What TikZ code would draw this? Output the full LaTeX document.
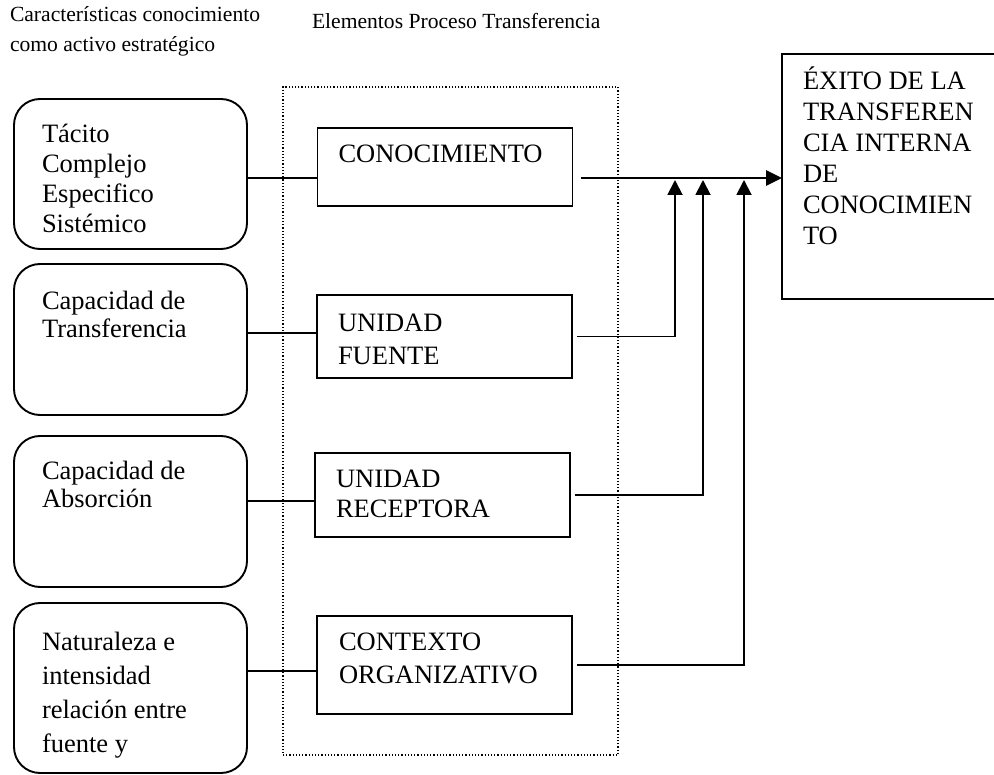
\documentclass[tikz,border=0pt]{standalone}
\usepackage{fontspec}
\setmainfont{Liberation Serif}
\usetikzlibrary{arrows.meta}

\begin{document}
\begin{tikzpicture}[x=1pt, y=-1pt,
    every node/.style={inner sep=0pt, outer sep=0pt},
    txt/.style={font=\fontsize{26.5}{#1}\selectfont, align=left, anchor=north west},
    txt/.default=30,
    title/.style={font=\fontsize{21.6}{30}\selectfont, align=left, anchor=north west},
    trait/.style={draw, line width=1.9pt, rounded corners=26pt, minimum width=233pt},
    elem/.style={draw, line width=1.9pt, minimum width=255pt},
    link/.style={line width=1.5pt},
    feed/.style={line width=1.9pt, shorten <=5pt, -{Triangle[length=15pt,width=15pt]}},
    main/.style={line width=2.8pt, shorten <=8pt, -{Triangle[length=16pt,width=15pt]}}]
    \useasboundingbox (0,0) rectangle (994,775);

    \node[title] (ttrait) at (10,6) {Características conocimiento\\como activo estratégico};
    \node[title] (telem) at (312,13) {Elementos Proceso Transferencia};

    % left column
    \node[trait, minimum height=150pt] (r1) at (130.5,174) {};
    \node[trait, minimum height=151pt] (r2) at (130.5,339.5) {};
    \node[trait, minimum height=151pt] (r3) at (130.5,511.5) {};
    \node[trait, minimum height=170pt] (r4) at (130.5,688) {};
    \node[txt] (r1t) at ([shift={(28,25)}]r1.north west) {Tácito\\Complejo\\Especifico\\Sistémico};
    \node[txt=28] (r2t) at ([shift={(28,27)}]r2.north west) {Capacidad de\\Transferencia};
    \node[txt=28] (r3t) at ([shift={(28,25)}]r3.north west) {Capacidad de\\Absorción};
    \node[txt=34] (r4t) at ([shift={(28,29)}]r4.north west) {Naturaleza e\\intensidad\\relación entre\\fuente y};

    % process elements
    \node[draw, dotted, line width=1.2pt, minimum width=335pt, minimum height=668pt] (proc) at (450.5,421) {};
    \node[elem, minimum height=78pt] (con) at (445,167) {};
    \node[elem, minimum height=83pt] (uf) at (444.5,336.5) {};
    \node[elem, minimum height=84pt] (ur) at (442.5,495) {};
    \node[elem, minimum height=98pt] (co) at (444.5,665) {};
    \node[txt] (cont) at ([shift={(21,17)}]con.north west) {CONOCIMIENTO};
    \node[txt=33] (uft) at ([shift={(21,19)}]uf.north west) {UNIDAD\\FUENTE};
    \node[txt=30] (urt) at ([shift={(21,17)}]ur.north west) {UNIDAD\\RECEPTORA};
    \node[txt=33] (cot) at ([shift={(22,17)}]co.north west) {CONTEXTO\\ORGANIZATIVO};

    % result
    \node[elem, minimum width=218pt, minimum height=245pt] (exito) at (891,176.5) {};
    \node[txt=31] (exitot) at ([shift={(21,13)}]exito.north west) {ÉXITO DE LA\\TRANSFEREN\\CIA INTERNA\\DE\\CONOCIMIEN\\TO};

    \coordinate (tip) at (782,178);
    \coordinate (j1) at (675,180);
    \coordinate (j2) at (703,180);
    \coordinate (j3) at (744,180);

    \foreach \a/\b/\y in {r1/con/178, r2/uf/333, r3/ur/501, r4/co/671}
      \draw[link] (\a.east |- 0,\y) -- (\b.west |- 0,\y);

    \draw[main] (con.east |- tip) -- (tip);
    \draw[feed] (uf.east) -| (j1);
    \draw[feed] (ur.east) -| (j2);
    \draw[feed] (co.east) -| (j3);
\end{tikzpicture}
\end{document}
